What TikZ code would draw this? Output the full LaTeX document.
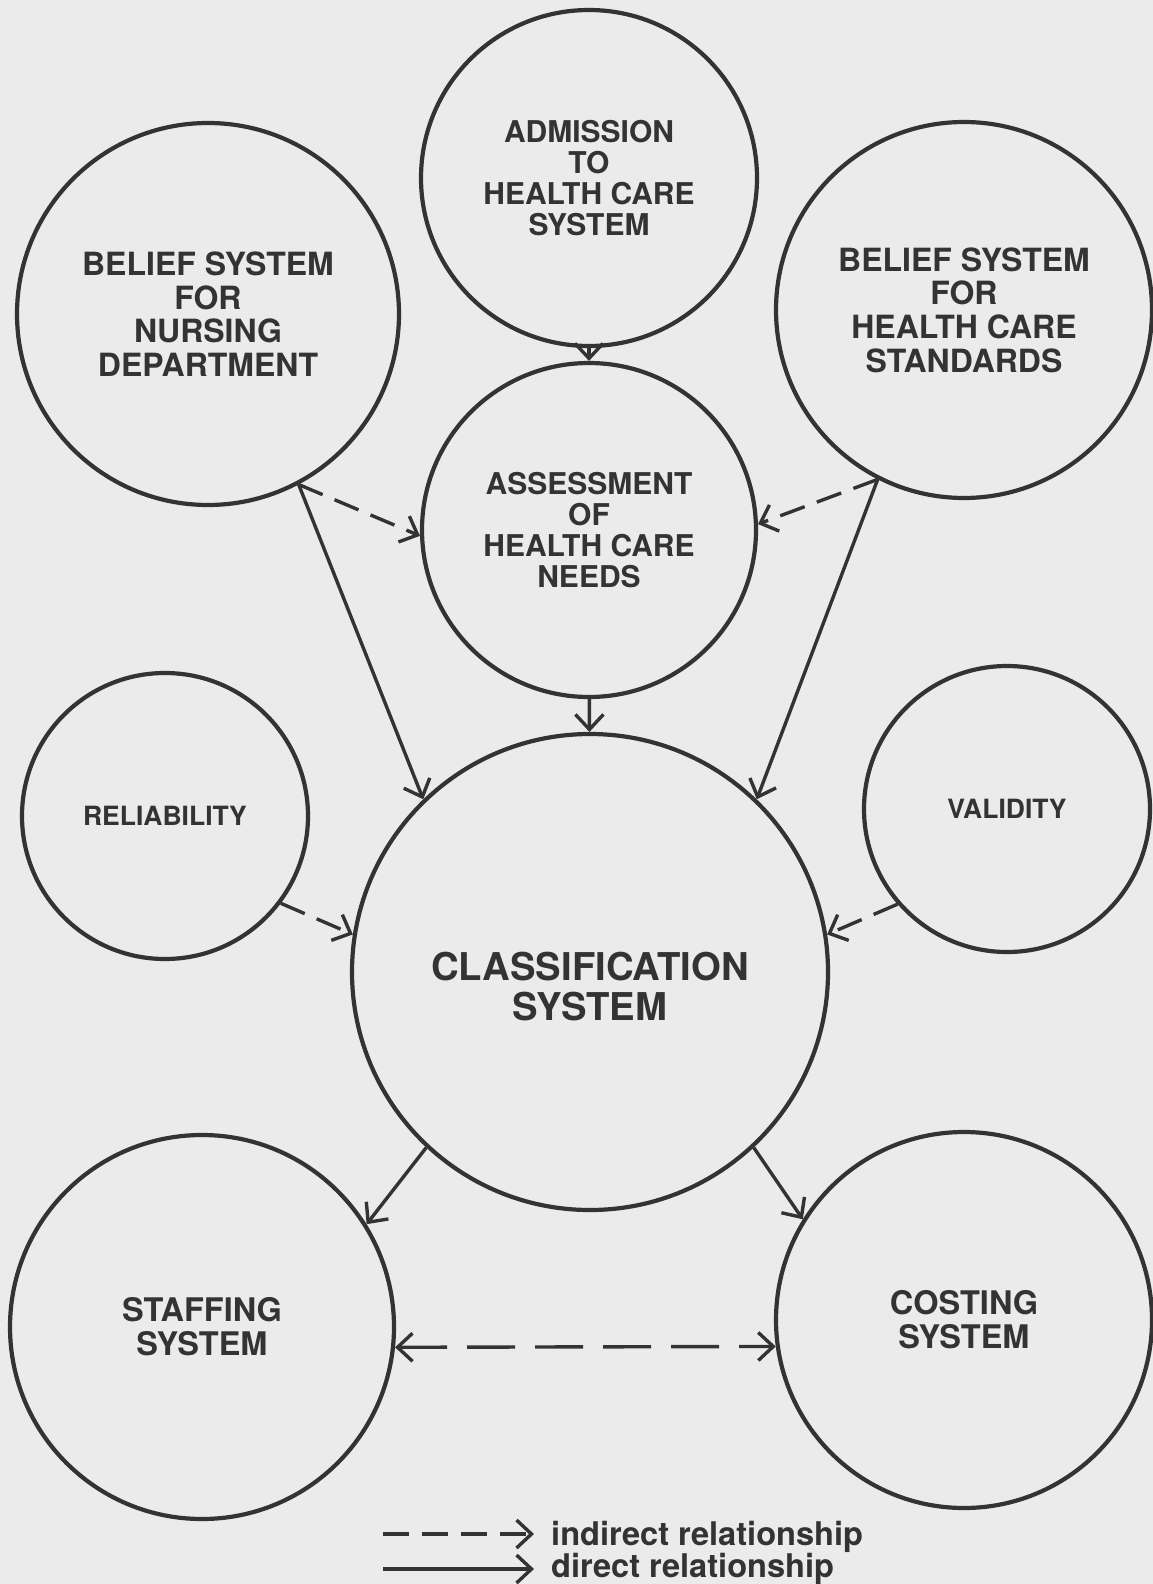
\documentclass[tikz,border=0pt]{standalone}
\usepackage{fontspec}
\setmainfont{TeX Gyre Heros}
\definecolor{ink}{HTML}{333333}
\definecolor{paper}{HTML}{EBEBEB}
\usetikzlibrary{arrows.meta, calc}

\begin{document}
\begin{tikzpicture}[x=1pt, y=-1pt,
		>={Straight Barb[length=15pt, width=28pt]},
		every node/.style={align=center, text=ink},
		blob/.style={draw=ink, circle, line width=4.2pt, inner sep=0pt, minimum size=#1},
		direct/.style={draw=ink, line width=3.4pt, ->},
		indirect/.style={direct, dash pattern=on 26pt off 13pt}]
	
	% Paper
	\fill[paper] (0,0) rectangle (1153,1584);
	\useasboundingbox (0,0) rectangle (1153,1584);
	
	% Circles
	\node[blob=336pt, font=\bfseries\fontsize{30pt}{31pt}\selectfont] (adm) at (589,178) {ADMISSION\\TO\\HEALTH CARE\\SYSTEM};
	\node[blob=382pt, font=\bfseries\fontsize{32pt}{33.6pt}\selectfont] (nurs) at (208,314) {BELIEF SYSTEM\\FOR\\NURSING\\DEPARTMENT};
	\node[blob=376pt, font=\bfseries\fontsize{32pt}{33.6pt}\selectfont] (std) at (964,310) {BELIEF SYSTEM\\FOR\\HEALTH CARE\\STANDARDS};
	\node[blob=334pt, font=\bfseries\fontsize{30pt}{31pt}\selectfont] (asm) at (589,530) {ASSESSMENT\\OF\\HEALTH CARE\\NEEDS};
	\node[blob=286pt, font=\bfseries\fontsize{26.5pt}{28pt}\selectfont] (rel) at (165,816) {RELIABILITY};
	\node[blob=286pt, font=\bfseries\fontsize{26.5pt}{28pt}\selectfont] (val) at (1007,809) {VALIDITY};
	\node[blob=476pt] (cls) at (590,972) {};
	\node[font=\bfseries\fontsize{38.3pt}{40pt}\selectfont] (cls-txt) at ([yshift=-15pt]cls.center) {CLASSIFICATION\\SYSTEM};
	\node[blob=384pt, font=\bfseries\fontsize{32.5pt}{34pt}\selectfont] (stf) at (202,1327) {STAFFING\\SYSTEM};
	\node[blob=376pt, font=\bfseries\fontsize{32.5pt}{34pt}\selectfont] (cst) at (964,1320) {COSTING\\SYSTEM};
	
	% Direct relationships
	\foreach \from/\to in {adm/asm, asm/cls, nurs.-62/cls.134, std.-117/cls.46, cls.-133/stf.32, cls.-47/cst.148}
	{
		\draw[direct] (\from) -- (\to);
	}
	
	% Indirect relationships
	\foreach \from/\to in {nurs.-62/asm.182, std.-117/asm.2, rel.-37/cls.171, val.-139/cls.9}
	{
		\draw[indirect] (\from) -- (\to);
	}
	\draw[indirect, <->, dash pattern=on 48pt off 20pt] (stf.-6) -- (cst.-172);
	
	% Key
	\coordinate (ind-a) at (383,1534);
	\coordinate (ind-b) at (534,1534);
	\coordinate (dir-a) at (383,1569);
	\coordinate (dir-b) at (534,1569);
	\draw[indirect] (ind-a) -- (ind-b);
	\draw[direct] (dir-a) -- (dir-b);
	\node[anchor=base west, inner sep=0pt, font=\bfseries\fontsize{32.6pt}{34pt}\selectfont] (ind-txt) at (551,1545) {indirect relationship};
	\node[anchor=base west, inner sep=0pt, font=\bfseries\fontsize{32.6pt}{34pt}\selectfont] (dir-txt) at (551,1577) {direct relationship};
	
\end{tikzpicture}
\end{document}
